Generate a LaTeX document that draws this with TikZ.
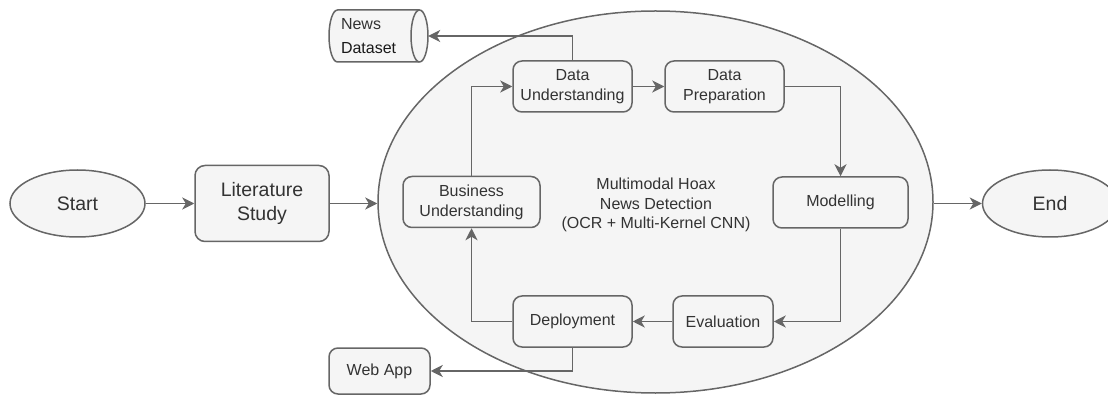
\documentclass[tikz,border=0pt]{standalone}
\usepackage{fontspec}
\setmainfont{Liberation Sans}
\usetikzlibrary{arrows.meta,shapes.geometric}
\definecolor{fillg}{HTML}{F5F5F5}
\definecolor{lineg}{HTML}{666666}
\definecolor{textg}{HTML}{333333}
\begin{document}
\begin{tikzpicture}[x=1pt,y=1pt,
  shp/.style={draw=lineg, fill=fillg, line width=1.5pt},
  base/.style={shp, text=textg, align=center, font=\fontsize{16}{20}\selectfont, inner sep=0pt},
  box/.style={base, rounded corners=9pt, minimum width=#1, minimum height=51pt},
  box/.default=119pt,
  oval/.style={base, ellipse, minimum width=135pt, minimum height=67pt, font=\fontsize{19.5}{23}\selectfont},
  conn/.style={draw=lineg, line width=1.5pt, -{Stealth[length=12pt,width=12pt,inset=3.5pt]}}]
\useasboundingbox (0,0) rectangle (1108,-395);
% big ellipse
\node[shp, ellipse, minimum width=555pt, minimum height=382pt, inner sep=0pt] (big) at (655.5,-202) {};
\node[text=textg, align=center, font=\fontsize{16}{19.5}\selectfont] (ctext) at (656,-205) {Multimodal Hoax\\News Detection\\(OCR + Multi-Kernel CNN)};
% outer nodes
\node[oval] (start) at (77.5,-203.5) {Start};
\node[base, rounded corners=10pt, minimum width=134pt, minimum height=76pt, font=\fontsize{19.5}{23.5}\selectfont] (lit) at (262,-203.5) {Literature\\Study};
\node[oval] (end) at (1050,-203.5) {End};
% inner nodes
\node[box] (du) at (572.5,-86.5) {Data\\Understanding};
\node[box] (dp) at (724.5,-86.5) {Data\\Preparation};
\node[box=137pt] (bu) at (471.5,-202) {Business\\Understanding};
\node[box=135pt] (mo) at (840.5,-202.5) {Modelling};
\node[box=100pt] (ev) at (723,-321.5) {Evaluation};
\node[box] (de) at (572.5,-321.5) {Deployment};
\node[box=101pt, minimum height=46pt] (wa) at (379.5,-371) {Web App};
% cylinder
\path[shp] (337.5,-10) -- (419.5,-10) arc[start angle=90,end angle=-90,x radius=8.5,y radius=26] -- (337.5,-62) arc[start angle=270,end angle=90,x radius=8.5,y radius=26] -- cycle;
\draw[draw=lineg, line width=1.5pt] (419.5,-10) arc[start angle=90,end angle=270,x radius=8.5,y radius=26];
\node[minimum width=99pt, minimum height=52pt, inner sep=0pt, align=left, text width=75pt, text=textg, font=\fontsize{16}{24}\selectfont] (ds) at (378.5,-36) {News\\\textcolor{black!90}{Dataset}};
% connectors
\draw[conn] (start) -- (lit);
\draw[conn] (lit.east) -- (lit.east -| big.west);
\draw[conn] (big.east |- end.west) -- (end.west);
\draw[conn] (du.north) |- (ds.east);
\draw[conn] (bu.north) |- (du.west);
\draw[conn] (du) -- (dp);
\draw[conn] (dp.east) -| (mo.north);
\draw[conn] (mo.south) |- (ev.east);
\draw[conn] (ev) -- (de);
\draw[conn] (de.west) -| (bu.south);
\draw[conn] (de.south) |- (wa.east);
\end{tikzpicture}
\end{document}
